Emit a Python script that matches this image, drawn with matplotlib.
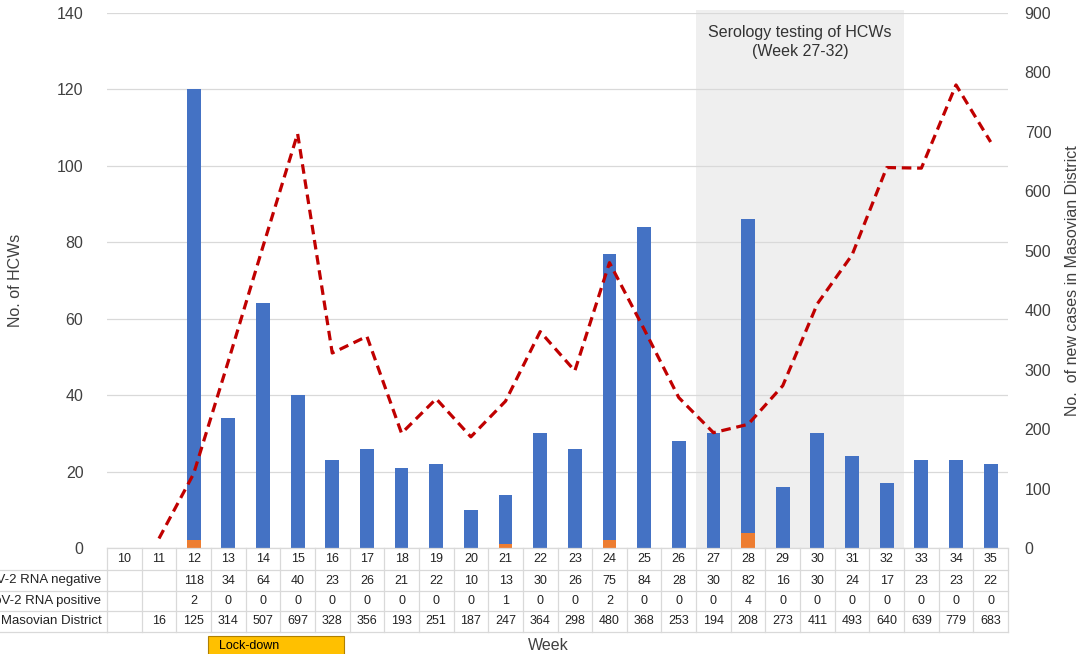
import matplotlib
matplotlib.use("Agg")
import matplotlib.pyplot as plt
import matplotlib.patches as mpatches
import numpy as np

plt.rcParams['font.family'] = ['Liberation Sans', 'DejaVu Sans']

weeks = list(range(10, 36))
rna_negative = [None, None, 118, 34, 64, 40, 23, 26, 21, 22, 10, 13, 30, 26, 75, 84, 28,
                30, 82, 16, 30, 24, 17, 23, 23, 22]
rna_positive = [None, None, 2, 0, 0, 0, 0, 0, 0, 0, 0, 1, 0, 0, 2, 0, 0,
                0, 4, 0, 0, 0, 0, 0, 0, 0]
new_cases = [None, 16, 125, 314, 507, 697, 328, 356, 193, 251, 187, 247, 364, 298, 480, 368,
             253, 194, 208, 273, 411, 493, 640, 639, 779, 683]
row_labels = ["SARS-CoV-2 RNA negative", "SARS-CoV-2 RNA positive",
              "No. of new cases in Masovian District"]
serology_weeks = (27, 32)
lockdown_span = (12.42, 16.34)

W, H = 1082, 654
fig = plt.figure(figsize=(W / 100, H / 100), dpi=100)
L, R, T, B = 107, 1008, 13, 548
ax = fig.add_axes([L / W, 1 - B / H, (R - L) / W, (B - T) / H])
ax2 = ax.twinx()

BLUE = '#4472C4'
ORANGE = '#ED7D31'
RED = '#C00000'
TXT = '#404040'

# shaded serology region
ax.axvspan(serology_weeks[0] - 0.5, serology_weeks[1] + 0.5, ymin=0, ymax=1.006,
           color='#EFEFEF', zorder=0, clip_on=False, lw=0)
ax.text((serology_weeks[0] + serology_weeks[1]) / 2, 136.8,
        "Serology testing of HCWs\n(Week 27-32)", ha='center', va='top',
        fontsize=11.5, color='#333333', linespacing=1.3, zorder=3)

# bars
bx = [w for w, n in zip(weeks, rna_negative) if n is not None]
pos = np.array([p for p in rna_positive if p is not None], dtype=float)
neg = np.array([n for n in rna_negative if n is not None], dtype=float)
ax.bar(bx, pos, width=0.4, color=ORANGE, zorder=2)
ax.bar(bx, neg, width=0.4, bottom=pos, color=BLUE, zorder=2)

ax.set_xlim(9.5, 35.5)
ax.set_ylim(0, 140)
ax.set_yticks(range(0, 141, 20))
ax.yaxis.grid(True, color='#D9D9D9', lw=0.9, zorder=1)
ax.set_axisbelow(True)
ax.set_xticks([])
for s in ax.spines.values():
    s.set_visible(False)
ax.tick_params(axis='y', length=0, pad=17, labelsize=11.5, labelcolor=TXT)

# line
lx = [w for w, c in zip(weeks, new_cases) if c is not None]
ly = [c for c in new_cases if c is not None]
ax2.plot(lx, ly, color=RED, lw=2.3, ls=(0, (3, 1.8)), zorder=5)
ax2.set_ylim(0, 900)
ax2.set_yticks(range(0, 901, 100))
for s in ax2.spines.values():
    s.set_visible(False)
ax2.tick_params(axis='y', length=0, pad=12, labelsize=11.5, labelcolor=TXT)

ax.set_ylabel("No. of HCWs", fontsize=11.5, color=TXT, labelpad=24)
ax2.set_ylabel("No.  of new cases in Masovian District", fontsize=11.5,
               color=TXT, labelpad=10)

# data table
tr = ax.get_xaxis_transform()
def yf(py):
    return (B - py) / (B - T)

GRID = '#D9D9D9'
row_edges = [548, 570, 591, 611, 632]
ax.plot([9.5, 35.5], [yf(row_edges[0])] * 2, transform=tr, color=GRID, lw=0.9, clip_on=False)
for py in row_edges[1:]:
    ax.plot([0, 1], [yf(py)] * 2, transform=ax.transAxes, color=GRID, lw=0.9, clip_on=False)
    ax.plot([0, 9.5], [yf(py)] * 2, transform=tr, color=GRID, lw=0.9, clip_on=False)
for k in range(len(weeks) + 1):
    xv = weeks[0] - 0.5 + k
    ax.plot([xv, xv], [yf(548), yf(632)], transform=tr, color=GRID, lw=0.9, clip_on=False)

row_centers = [559, 580.5, 601, 621.5]
tfs = 9
for w in weeks:
    ax.text(w, yf(row_centers[0]), str(w), transform=tr, ha='center', va='center',
            fontsize=tfs, color='#222222')
for ri, series in enumerate([rna_negative, rna_positive, new_cases]):
    yc = yf(row_centers[ri + 1])
    for w, v in zip(weeks, series):
        if v is not None:
            ax.text(w, yc, str(v), transform=tr, ha='center', va='center',
                    fontsize=tfs, color='#222222')
    fig.text(101.5 / W, 1 - row_centers[ri + 1] / H, row_labels[ri], ha='right',
             va='center', fontsize=9.5, color='#222222')

# lock-down box
rect = mpatches.Rectangle((lockdown_span[0], yf(660)), lockdown_span[1] - lockdown_span[0],
                          yf(636) - yf(660), transform=tr, facecolor='#FFC000',
                          edgecolor='#B08000', lw=0.8, clip_on=False)
ax.add_patch(rect)
ax.text(lockdown_span[0] + 0.3, yf(646), "Lock-down", transform=tr, ha='left',
        va='center', fontsize=9, color='#000000')

fig.text(548 / W, 1 - 646 / H, "Week", ha='center', va='center', fontsize=11.5,
         color=TXT)

fig.savefig("out.png", dpi=100)
